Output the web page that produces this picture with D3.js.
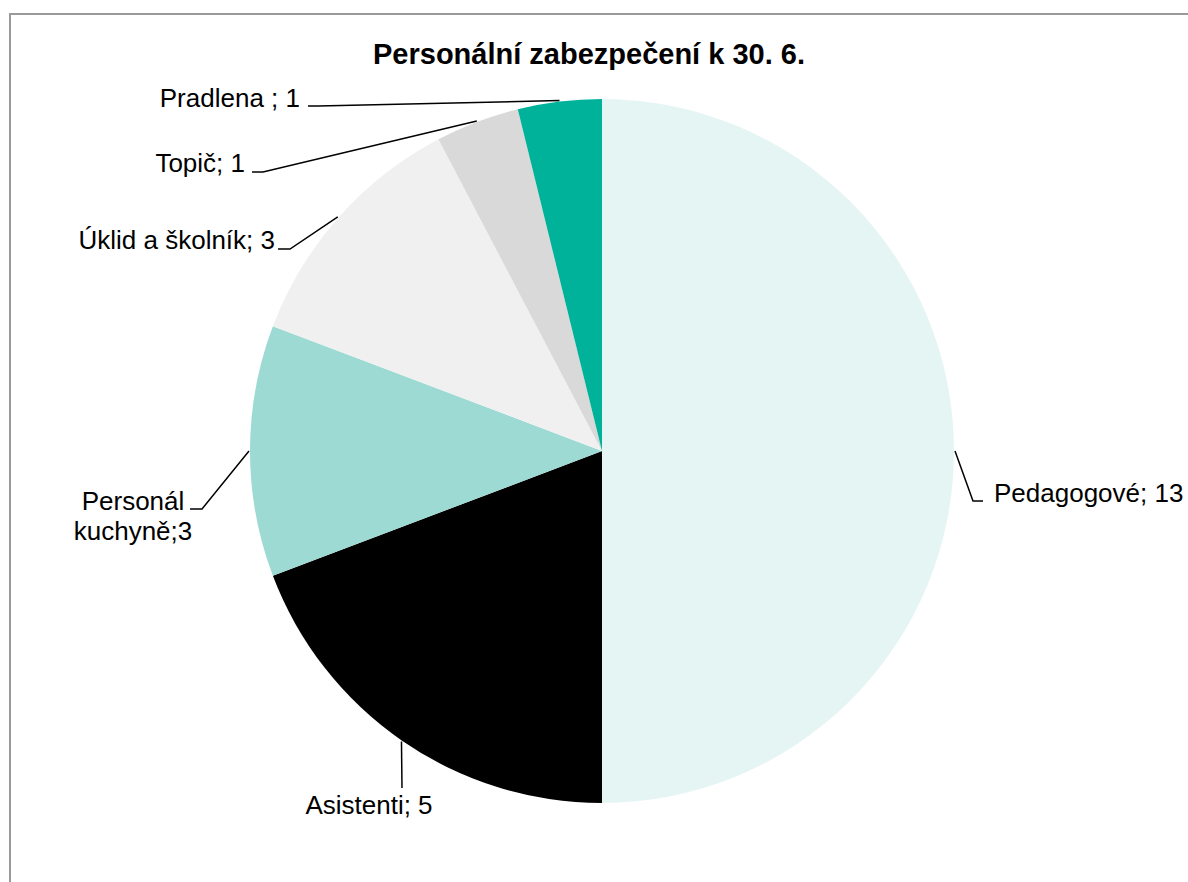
<!DOCTYPE html>
<html>
<head>
<meta charset="utf-8">
<script src="https://cdn.jsdelivr.net/npm/d3@7"></script>
<style>
  html, body { margin: 0; padding: 0; background: #fff; }
  svg { display: block; font-family: "Liberation Sans", Arial, sans-serif; }
</style>
</head>
<body>
<div id="chart"></div>
<script>
// Personální zabezpečení — pie chart

const categories = ['Pedagogové', 'Asistenti', 'Personál kuchyně', 'Úklid a školník', 'Topič', 'Pradlena'];
const values = [13, 5, 3, 3, 1, 1];
const labelLines = [
    ['Pedagogové; 13'],
    ['Asistenti; 5'],
    ['Personál', 'kuchyně;3'],
    ['Úklid a školník; 3'],
    ['Topič; 1'],
    ['Pradlena ; 1']
];
const colors = ['#E5F5F3', '#000000', '#9DDAD4', '#F0F0F0', '#D9D9D9', '#00B29A'];

// label placement (layout only): elbow point, leader end, text anchor + position
const labelLayout = [
    {elbow: [973, 501], end: [983, 501], anchor: 'start', tx: 994, ty: 502},
    {elbow: null, end: [402, 788], anchor: 'middle', tx: 369, ty: 814},
    {elbow: [202, 509], end: [190, 509], anchor: 'middle', tx: 133, ty: 510},
    {elbow: [290, 249], end: [278, 249], anchor: 'end', tx: 275, ty: 249},
    {elbow: [263, 172], end: [252, 172], anchor: 'end', tx: 245, ty: 172},
    {elbow: [318, 106], end: [308, 106], anchor: 'end', tx: 300, ty: 107}
];

const W = 1188, H = 882;
const cx = 602, cy = 451, r = 352;

const svg = d3.select('#chart').append('svg')
    .attr('width', W).attr('height', H);

// chart frame
svg.append('rect')
    .attr('x', 10).attr('y', 14).attr('width', 1200).attr('height', 900)
    .attr('fill', '#fff').attr('stroke', '#9a9a9a').attr('stroke-width', 2);

svg.append('text')
    .attr('x', 589).attr('y', 64)
    .attr('text-anchor', 'middle')
    .attr('font-size', '29px').attr('font-weight', 'bold')
    .text('Personální zabezpečení k 30. 6.');

const data = categories.map((c, i) => ({name: c, value: values[i], i}));

const pie = d3.pie().value(d => d.value).sort(null);
const arc = d3.arc().innerRadius(0).outerRadius(r);
const edge = d3.arc().innerRadius(r + 1).outerRadius(r + 1);

const g = svg.append('g').attr('transform', `translate(${cx},${cy})`);
const arcs = pie(data);

g.selectAll('path.slice').data(arcs).enter()
    .append('path').attr('class', 'slice')
    .attr('d', arc)
    .attr('fill', d => colors[d.data.i]);

// leader lines
const lines = svg.append('g');
arcs.forEach(d => {
    const lay = labelLayout[d.data.i];
    const c = edge.centroid(d);
    const pts = [[cx + c[0], cy + c[1]]];
    if (lay.elbow) pts.push(lay.elbow);
    pts.push(lay.end);
    lines.append('path')
        .attr('d', d3.line()(pts))
        .attr('fill', 'none').attr('stroke', '#000').attr('stroke-width', 1.5);
});

// labels
const labels = svg.append('g');
arcs.forEach(d => {
    const lay = labelLayout[d.data.i];
    const t = labels.append('text')
        .attr('text-anchor', lay.anchor)
        .attr('font-size', '26px').attr('fill', '#000');
    labelLines[d.data.i].forEach((ln, k) => {
        t.append('tspan').attr('x', lay.tx).attr('y', lay.ty + k * 30).text(ln);
    });
});
</script>
</body>
</html>
